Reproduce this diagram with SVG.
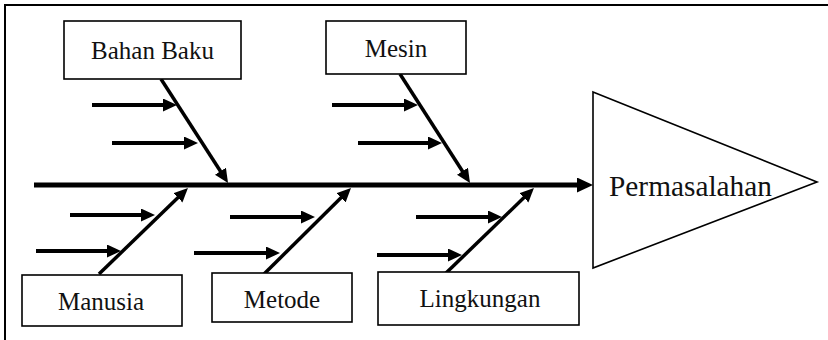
<svg xmlns="http://www.w3.org/2000/svg" width="828" height="340" viewBox="0 0 828 340">
<style>
.box{fill:#fff;stroke:#000;stroke-width:1.6}
.lbl{font-family:"Liberation Serif","Times New Roman",serif;font-size:25px;fill:#111;text-anchor:middle}
.bone{stroke:#000;stroke-width:3.5;fill:none;marker-end:url(#ah)}
.sub{stroke:#000;stroke-width:4;fill:none;marker-end:url(#ah)}
</style>
<defs>
<marker id="ah" markerUnits="userSpaceOnUse" markerWidth="16" markerHeight="14" refX="6" refY="6.5" orient="auto">
<path d="M0,0 L14,6.5 L0,13 z" fill="#000"/>
</marker>
<marker id="ahBig" markerUnits="userSpaceOnUse" markerWidth="18" markerHeight="16" refX="5" refY="7.5" orient="auto">
<path d="M0,0 L16,7.5 L0,15 z" fill="#000"/>
</marker>
</defs>
<path d="M5,340 V5 H828" fill="none" stroke="#000" stroke-width="2"/>
<g id="connectors">
<line x1="34" y1="185" x2="582" y2="185" stroke="#000" stroke-width="5" marker-end="url(#ahBig)"/>
<line class="bone" x1="161" y1="79" x2="223.7" y2="176.3"/>
<line class="bone" x1="400" y1="74" x2="465.7" y2="176.3"/>
<line class="bone" x1="99" y1="274" x2="182.2" y2="193.6"/>
<line class="bone" x1="262" y1="276" x2="345.3" y2="193.6"/>
<line class="bone" x1="445" y1="274" x2="528.2" y2="193.6"/>
<line class="sub" x1="92" y1="105" x2="169" y2="105"/>
<line class="sub" x1="112" y1="143" x2="190" y2="143"/>
<line class="sub" x1="332" y1="105" x2="410" y2="105"/>
<line class="sub" x1="358" y1="143" x2="434" y2="143"/>
<line class="sub" x1="70" y1="215" x2="147" y2="215"/>
<line class="sub" x1="36" y1="251" x2="113" y2="251"/>
<line class="sub" x1="230" y1="217" x2="307" y2="217"/>
<line class="sub" x1="194" y1="253" x2="272" y2="253"/>
<line class="sub" x1="416" y1="217" x2="494" y2="217"/>
<line class="sub" x1="377" y1="255" x2="454" y2="255"/>
</g>
<g id="bahan-baku">
<rect class="box" x="64" y="21" width="177" height="58"/>
<text class="lbl" x="152.5" y="59">Bahan Baku</text>
</g>
<g id="mesin">
<rect class="box" x="326" y="21" width="140" height="53"/>
<text class="lbl" x="396" y="57">Mesin</text>
</g>
<g id="manusia">
<rect class="box" x="22" y="275" width="160" height="51"/>
<text class="lbl" x="101" y="310">Manusia</text>
</g>
<g id="metode">
<rect class="box" x="212" y="273" width="140" height="49"/>
<text class="lbl" x="282" y="308">Metode</text>
</g>
<g id="lingkungan">
<rect class="box" x="378" y="272" width="201" height="53"/>
<text class="lbl" x="480" y="307">Lingkungan</text>
</g>
<g id="permasalahan">
<polygon class="box" points="593,92 817,182 593,268"/>
<text x="609" y="196" font-family="Liberation Serif, Times New Roman, serif" font-size="29" fill="#111" textLength="163" lengthAdjust="spacingAndGlyphs">Permasalahan</text>
</g>
</svg>
